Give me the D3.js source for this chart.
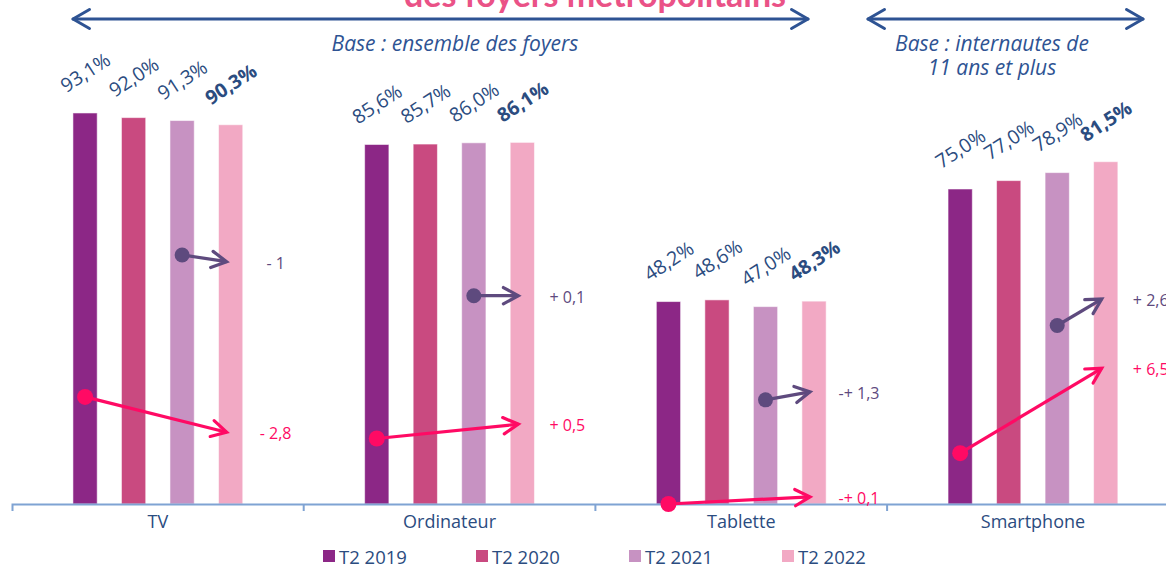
<!DOCTYPE html>
<html>
<head>
<meta charset="utf-8">
<script src="https://cdn.jsdelivr.net/npm/d3@7"></script>
<style>
    body { margin: 0; background: #fff; }
    svg { display: block; font-family: "Open Sans", sans-serif; }
</style>
</head>
<body>
<div id="chart"></div>
<script>
var categories = ["TV", "Ordinateur", "Tablette", "Smartphone"];
var years = ["T2 2019", "T2 2020", "T2 2021", "T2 2022"];

var values2019 = [93.1, 85.6, 48.2, 75.0];
var values2020 = [92.0, 85.7, 48.6, 77.0];
var values2021 = [91.3, 86.0, 47.0, 78.9];
var values2022 = [90.3, 86.1, 48.3, 81.5];

// evolution labels (vs 2021 and vs 2019) and the heights of their arrows, in % of the bar axis
var evolLastYear = ["- 1", "+ 0,1", "-+ 1,3", "+ 2,6"];
var evolSince2019 = ["- 2,8", "+ 0,5", "-+ 0,1", "+ 6,5"];
var lastYearFrom = [59.3, 49.6, 24.8, 42.5];
var lastYearTo = [57.7, 49.6, 26.7, 48.8];
var since2019From = [25.5, 15.6, 0, 12.1];
var since2019To = [17.1, 19.0, 1.7, 32.3];

var barColors = ["#8C2786", "#C94A80", "#C792C2", "#F2A9C4"];
var blue = "#2B4C80";

var width = 1166, height = 566;

var svg = d3.select("#chart").append("svg")
    .attr("width", width)
    .attr("height", height);

var series = [values2019, values2020, values2021, values2022];

var x0 = d3.scaleBand()
    .domain(categories)
    .range([12, 12 + 4 * 291.7]);

var x1 = d3.scaleBand()
    .domain(years)
    .range([0, x0.bandwidth()])
    .paddingInner(0.5)
    .paddingOuter(1.256);

var y = d3.scaleLinear()
    .domain([0, 100])
    .range([504, 84]);

var fmt = function(v) { return d3.format(".1f")(v).replace(".", ",") + "%"; };

// title, only its last line is still on the picture
svg.append("text")
    .attr("x", 595)
    .attr("y", 7)
    .attr("text-anchor", "middle")
    .style("font-family", "Lato, sans-serif")
    .style("font-weight", "bold")
    .style("font-size", "34px")
    .style("fill", "#EA5287")
    .text("des foyers métropolitains");

function chevron(x1, y1, x2, y2, len, spread) {
    var a = Math.atan2(y2 - y1, x2 - x1);
    return "M" + (x2 - len * Math.cos(a - spread)) + "," + (y2 - len * Math.sin(a - spread))
        + "L" + x2 + "," + y2
        + "L" + (x2 - len * Math.cos(a + spread)) + "," + (y2 - len * Math.sin(a + spread));
}

// double arrows above the chart
var brackets = [{x1: 73, x2: 808}, {x1: 868, x2: 1143}];
brackets.forEach(function(b) {
    var g = svg.append("g")
        .style("stroke", "#2E5393")
        .style("stroke-width", 3)
        .style("fill", "none")
        .style("stroke-linecap", "round")
        .style("stroke-linejoin", "round");
    g.append("line").attr("x1", b.x1).attr("x2", b.x2).attr("y1", 19).attr("y2", 19);
    g.append("path").attr("d", chevron(b.x2, 19, b.x1, 19, 19, 0.52));
    g.append("path").attr("d", chevron(b.x1, 19, b.x2, 19, 19, 0.52));
});

var baseText = svg.append("g")
    .style("font-style", "italic")
    .style("font-size", "21px")
    .style("fill", "#2E5393")
    .attr("text-anchor", "middle");
baseText.append("text").attr("x", 455).attr("y", 51).text("Base : ensemble des foyers");
baseText.append("text").attr("x", 992).attr("y", 51).text("Base : internautes de");
baseText.append("text").attr("x", 992).attr("y", 75).text("11 ans et plus");

// bars
var cat = svg.append("g").selectAll("g")
    .data(categories)
    .enter().append("g")
        .attr("transform", function(d) { return "translate(" + x0(d) + ",0)"; });

cat.selectAll("rect")
    .data(function(d, i) { return years.map(function(yr, j) { return {year: yr, k: j, value: series[j][i]}; }); })
    .enter().append("rect")
        .attr("x", function(d) { return x1(d.year); })
        .attr("y", function(d) { return y(d.value); })
        .attr("width", x1.bandwidth())
        .attr("height", function(d) { return y(0) - y(d.value); })
        .style("fill", function(d) { return barColors[d.k]; })
        .style("stroke", "rgba(255,255,255,0.55)")
        .style("stroke-width", 1);

cat.selectAll("text.val")
    .data(function(d, i) { return years.map(function(yr, j) { return {year: yr, k: j, value: series[j][i]}; }); })
    .enter().append("text")
        .attr("class", "val")
        .attr("text-anchor", "middle")
        .attr("dominant-baseline", "central")
        .attr("transform", function(d) {
            return "translate(" + (x1(d.year) + x1.bandwidth() / 2) + "," + (y(d.value) - 41) + ")rotate(-33)";
        })
        .style("font-size", "19.5px")
        .style("font-weight", function(d) { return d.k == 3 ? "bold" : null; })
        .style("fill", blue)
        .text(function(d) { return fmt(d.value); });

// axis
var axis = svg.append("g")
    .attr("transform", "translate(0," + y(0) + ")")
    .call(d3.axisBottom(x0).tickSizeInner(0).tickSizeOuter(7).tickPadding(11));

axis.select(".domain").style("stroke", "#7FA3D3").style("stroke-width", 2);
axis.selectAll("text")
    .style("font-family", "Open Sans, sans-serif")
    .style("font-size", "18px")
    .style("fill", blue);

axis.selectAll("line.sep")
    .data(categories.slice(1))
    .enter().append("line")
        .attr("class", "sep")
        .attr("x1", function(d) { return x0(d); })
        .attr("x2", function(d) { return x0(d); })
        .attr("y1", 0)
        .attr("y2", 7)
        .style("stroke", "#7FA3D3")
        .style("stroke-width", 2);

// evolution arrows
function drawArrows(from, to, startYear, labels, color, radius) {
    var g = svg.append("g");
    categories.forEach(function(c, i) {
        var xs = x0(c) + x1(startYear) + x1.bandwidth() / 2;
        var xe = x0(c) + x1(years[3]) + x1.bandwidth() / 2 - 4;
        var ys = y(from[i]), ye = y(to[i]);
        g.append("line")
            .attr("x1", xs).attr("y1", ys)
            .attr("x2", xe).attr("y2", ye)
            .style("stroke", color)
            .style("stroke-width", 3.2);
        g.append("path")
            .attr("d", chevron(xs, ys, xe, ye, 17, 0.5))
            .style("fill", "none")
            .style("stroke", color)
            .style("stroke-width", 3.2)
            .style("stroke-linecap", "round");
        g.append("circle")
            .attr("cx", xs).attr("cy", ys)
            .attr("r", radius)
            .style("fill", color);
        g.append("text")
            .attr("x", x0(c) + x1(years[3]) + x1.bandwidth() / 2 + 45)
            .attr("y", ye + 1)
            .attr("text-anchor", "middle")
            .attr("dominant-baseline", "central")
            .style("font-size", "16px")
            .style("fill", color)
            .text(labels[i]);
    });
}

drawArrows(lastYearFrom, lastYearTo, years[2], evolLastYear, "#5E4A7E", 7.5);
drawArrows(since2019From, since2019To, years[0], evolSince2019, "#FF0A64", 8);

// legend
var legend = svg.append("g").selectAll("g")
    .data(years)
    .enter().append("g")
        .attr("transform", function(d, i) { return "translate(" + (323 + i * 153) + ",550)"; });

legend.append("rect")
    .attr("width", 12)
    .attr("height", 12)
    .style("fill", function(d, i) { return barColors[i]; });

legend.append("text")
    .attr("x", 16)
    .attr("y", 6)
    .attr("dominant-baseline", "central")
    .style("font-size", "18.5px")
    .style("fill", blue)
    .text(function(d) { return d; });
</script>
</body>
</html>
